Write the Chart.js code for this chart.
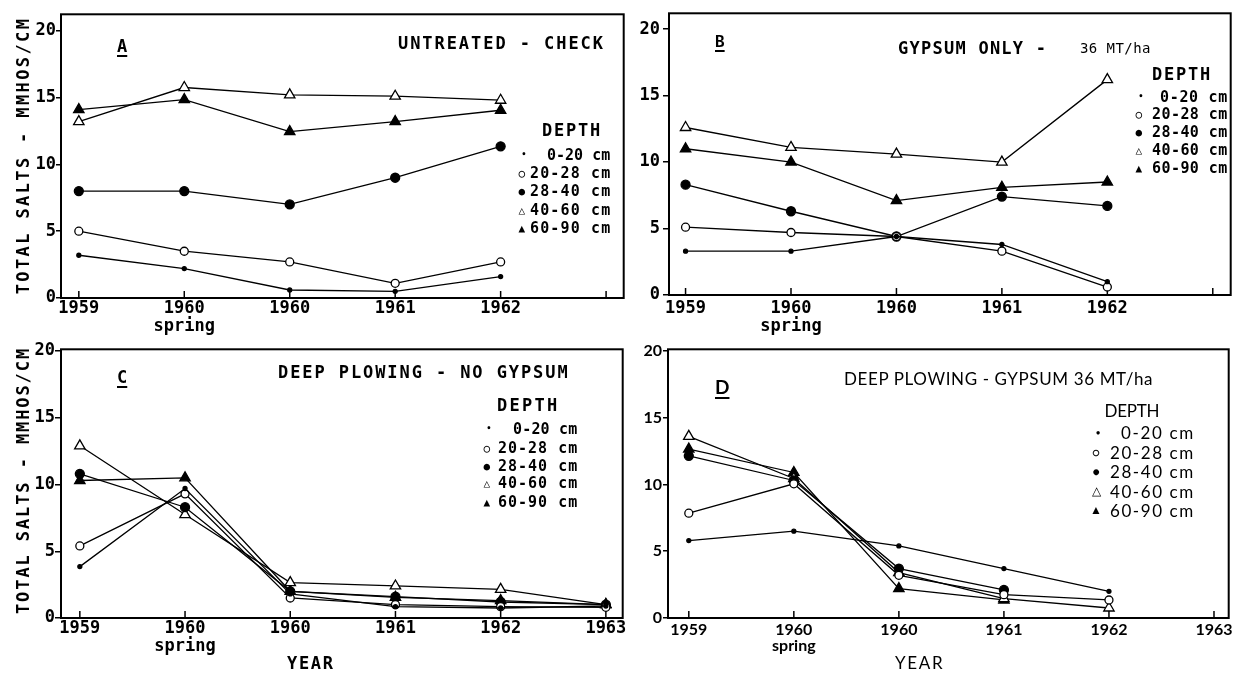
<!DOCTYPE html>
<html><head><meta charset="utf-8">
<script src="https://cdn.jsdelivr.net/npm/chart.js@4.4.1/dist/chart.umd.min.js"></script>
<style>
html,body{margin:0;padding:0;background:#fff;}
#wrap{position:relative;width:1241px;height:673px;overflow:hidden;background:#fff;}
canvas{position:absolute;}
.t{position:absolute;white-space:nowrap;line-height:1;color:#000;}
.m{font-family:"DejaVu Sans Mono",monospace;font-weight:bold;}
.mn{font-family:"DejaVu Sans Mono",monospace;font-weight:normal;}
.f{font-family:Lato,"Open Sans",sans-serif;font-weight:normal;}
.fb{font-family:Lato,"Open Sans",sans-serif;font-weight:bold;}
</style></head><body><div id="wrap"></div>
<script>
// ---------- DATA ----------
const depthLabels = ['0-20 cm', '20-28 cm', '28-40 cm', '40-60 cm', '60-90 cm'];
const yTicks = [0, 5, 10, 15, 20];
const xLabelsAB = ['1959', ['1960', 'spring'], '1960', '1961', '1962', ''];
const xLabelsCD = ['1959', ['1960', 'spring'], '1960', '1961', '1962', '1963'];

// Panel A - untreated check
const a_0_20  = [3.2, 2.2, 0.6, 0.5, 1.6];
const a_20_28 = [5.0, 3.5, 2.7, 1.1, 2.7];
const a_28_40 = [8.0, 8.0, 7.0, 9.0, 11.35];
const a_40_60 = [13.2, 15.75, 15.2, 15.1, 14.8];
const a_60_90 = [14.1, 14.85, 12.45, 13.2, 14.05];
// Panel B - gypsum only
const b_0_20  = [3.3, 3.3, 4.4, 3.8, 1.0];
const b_20_28 = [5.1, 4.7, 4.4, 3.3, 0.6];
const b_28_40 = [8.3, 6.3, 4.4, 7.4, 6.7];
const b_40_60 = [12.6, 11.1, 10.6, 10.0, 16.2];
const b_60_90 = [11.0, 10.0, 7.1, 8.1, 8.5];
// Panel C - deep plowing, no gypsum
const c_0_20  = [3.85, 9.7, 1.8, 0.85, 0.75, 0.9];
const c_20_28 = [5.4, 9.3, 1.5, 1.0, 0.85, 0.8];
const c_28_40 = [10.8, 8.3, 2.0, 1.6, 1.2, 1.0];
const c_40_60 = [12.9, 7.75, 2.65, 2.4, 2.15, 1.0];
const c_60_90 = [10.3, 10.5, 2.0, 1.55, 1.3, 1.0];
// Panel D - deep plowing, gypsum 36 MT/ha
const d_0_20  = [5.8, 6.5, 5.4, 3.7, 2.0];
const d_20_28 = [7.85, 10.05, 3.2, 1.75, 1.35];
const d_28_40 = [12.15, 10.3, 3.7, 2.1, null];
const d_40_60 = [13.6, 10.45, 3.4, 1.45, 0.75];
const d_60_90 = [12.65, 10.9, 2.2, 1.35, null];

// ---------- LAYOUT ----------
const YW = 60, XH = 50, PAD = 3;
const MONO = '"DejaVu Sans Mono", monospace';
const LATO = 'Lato, "Open Sans", sans-serif';
const marks = [
  {style: 'circle', r: 2, fill: '#000'},
  {style: 'circle', r: 4, fill: '#fff'},
  {style: 'circle', r: 4.5, fill: '#000'},
  {style: 'triangle', r: 6, fill: '#fff'},
  {style: 'triangle', r: 6, fill: '#000'}
];
const panels = [
  {L: 61, T: 10, R: 628, B: 298, xmin: -0.169, xmax: 5.167, ymax: 21.23, labels: xLabelsAB,
   series: [a_0_20, a_20_28, a_28_40, a_40_60, a_60_90], font: MONO, weight: 'bold', size: 17, tl: 5, pad: 0},
  {L: 669, T: 9, R: 1235, B: 295, xmin: -0.157, xmax: 5.17, ymax: 21.19, labels: xLabelsAB,
   series: [b_0_20, b_20_28, b_28_40, b_40_60, b_60_90], font: MONO, weight: 'bold', size: 17, tl: 6, pad: 3},
  {L: 61, T: 345, R: 627, B: 618, xmin: -0.179, xmax: 5.16, ymax: 20.13, labels: xLabelsCD,
   series: [c_0_20, c_20_28, c_28_40, c_40_60, c_60_90], font: MONO, weight: 'bold', size: 17, tl: 6, pad: 0},
  {L: 668, T: 345, R: 1233, B: 618, xmin: -0.198, xmax: 5.14, ymax: 20.125, labels: xLabelsCD,
   series: [d_0_20, d_20_28, d_28_40, d_40_60, d_60_90], font: LATO, weight: 'bold', size: 16, tl: 5, pad: 1}
];

const wrap = document.getElementById('wrap');

const framePlugin = {
  id: 'frame',
  beforeDatasetsDraw(chart) {
    const {ctx, chartArea: a} = chart;
    ctx.save();
    ctx.strokeStyle = '#000';
    ctx.lineWidth = 2;
    ctx.strokeRect(a.left, a.top, a.right - a.left, a.bottom - a.top);
    ctx.lineWidth = 1.5;
    const xs = chart.scales.x;
    xs.ticks.forEach(t => {
      const px = xs.getPixelForValue(t.value);
      ctx.beginPath(); ctx.moveTo(px, a.bottom); ctx.lineTo(px, a.bottom - 7); ctx.stroke();
    });
    ctx.restore();
  }
};

function makePanel(p) {
  const W = p.R - p.L + YW + PAD, H = p.B - p.T + PAD + XH;
  const cv = document.createElement('canvas');
  cv.width = W; cv.height = H;
  Object.assign(cv.style, {left: (p.L - YW) + 'px', top: (p.T - PAD) + 'px', width: W + 'px', height: H + 'px'});
  wrap.appendChild(cv);
  const datasets = p.series.map((arr, k) => ({
    label: depthLabels[k],
    data: arr.map((v, i) => ({x: i, y: v})),
    borderColor: '#000', borderWidth: 1.3, tension: 0, fill: false, spanGaps: false,
    pointStyle: marks[k].style, pointRadius: marks[k].r,
    pointBackgroundColor: marks[k].fill, pointBorderColor: '#000', pointBorderWidth: 1.3
  }));
  new Chart(cv, {
    type: 'line',
    data: {datasets},
    options: {
      responsive: false, animation: false, devicePixelRatio: 1,
      layout: {padding: {top: PAD, right: PAD, left: 0, bottom: 0}},
      plugins: {legend: {display: false}, tooltip: {enabled: false}, title: {display: false}},
      scales: {
        x: {
          type: 'linear', min: p.xmin, max: p.xmax,
          afterBuildTicks: s => { s.ticks = p.labels.map((_, i) => ({value: i})); },
          ticks: {callback: v => p.labels[v], color: '#000', autoSkip: false, maxRotation: 0,
                  padding: p.pad + 2, font: {family: p.font, size: p.size, weight: p.weight, lineHeight: 1.05}},
          grid: {display: false, drawTicks: false},
          border: {display: false},
          afterFit: s => { s.height = XH; s.paddingLeft = 0; s.paddingRight = 0; }
        },
        y: {
          type: 'linear', min: 0, max: p.ymax,
          afterBuildTicks: s => { s.ticks = yTicks.map(v => ({value: v})); },
          ticks: {color: '#000', padding: p.pad, font: {family: p.font, size: p.size, weight: p.weight}},
          grid: {drawOnChartArea: false, drawTicks: true, tickLength: p.tl, color: '#000', lineWidth: 1.5},
          border: {display: false},
          afterFit: s => { s.width = YW; s.paddingTop = 0; s.paddingBottom = 0; }
        }
      }
    },
    plugins: [framePlugin]
  });
}
panels.forEach(makePanel);

// ---------- TEXT ----------
function txt(s, x, y, anchor, cls, size, opt) {
  opt = opt || {};
  const el = document.createElement('div');
  el.className = 't ' + cls;
  el.textContent = s;
  el.style.fontSize = size + 'px';
  if (opt.underline) { el.style.textDecoration = 'underline'; el.style.textDecorationThickness = '2px'; el.style.textUnderlineOffset = '3px'; }
  wrap.appendChild(el);
  if (opt.fit) {
    const n = s.length;
    const w0 = el.offsetWidth;
    el.style.letterSpacing = ((opt.fit - w0) / Math.max(n - 1, 1)) + 'px';
  }
  let w = el.offsetWidth, h = el.offsetHeight;
  if (opt.fit) w = opt.fit;
  let left = x;
  if (anchor === 'c') left = x - w / 2;
  if (anchor === 'r') left = x - w;
  el.style.left = left + 'px';
  el.style.top = (y - h / 2) + 'px';
  if (opt.rot) {
    el.style.left = (x - w / 2) + 'px';
    el.style.transform = 'rotate(-90deg)';
  }
  return el;
}
const syms = ['•', '○', '●', '△', '▲'];
function legend(x0, right, ys, textW0, textW, cls, size, symSize) {
  ys.forEach((y, k) => {
    txt(syms[k], x0 + (k === 0 ? 2 : 0), y, 'c', cls, k === 0 ? symSize - 3 : symSize);
    txt(depthLabels[k], right, y, 'r', cls, size, {fit: k === 0 ? textW0 : textW});
  });
}

// Panel A
txt('A', 122, 46, 'c', 'm', 17, {underline: true});
txt('UNTREATED - CHECK', 398, 43, 'l', 'm', 17, {fit: 205});
txt('DEPTH', 571, 130, 'c', 'm', 17, {fit: 58});
legend(522, 610, [155, 173.3, 191.7, 210, 228.3], 63, 80, 'm', 15, 11);
txt('TOTAL SALTS - MMHOS/CM', 22, 155, 'c', 'm', 17, {fit: 275, rot: true});

// Panel B
txt('B', 720, 42, 'c', 'm', 16, {underline: true});
txt('GYPSUM ONLY -', 898, 48, 'l', 'm', 17, {fit: 148});
txt('36 MT/ha', 1080, 48, 'l', 'mn', 14, {fit: 70});
txt('DEPTH', 1181, 74, 'c', 'm', 17, {fit: 58});
legend(1139, 1227, [97, 114, 132, 150, 168], 67, 75, 'm', 15, 11);

// Panel C
txt('C', 122, 377, 'c', 'm', 17, {underline: true});
txt('DEEP PLOWING - NO GYPSUM', 278, 372, 'l', 'm', 17, {fit: 290});
txt('DEPTH', 527, 405, 'c', 'm', 17, {fit: 60});
legend(487, 577, [429, 448, 466, 483, 502], 64, 79, 'm', 15, 11);
txt('TOTAL SALTS - MMHOS/CM', 22, 480, 'c', 'm', 17, {fit: 265, rot: true});
txt('YEAR', 310, 663, 'c', 'm', 17, {fit: 46});

// Panel D
txt('D', 722, 386, 'c', 'fb', 19, {underline: true});
txt('DEEP PLOWING - GYPSUM 36 MT/ha', 844, 378, 'l', 'f', 17, {fit: 309});
txt('DEPTH', 1132, 410, 'c', 'f', 17, {fit: 55});
legend(1096, 1193, [432.7, 452.7, 471.7, 491, 510], 72, 83, 'f', 17, 12);
txt('YEAR', 919, 662, 'c', 'f', 17, {fit: 48});
</script>
</body></html>
